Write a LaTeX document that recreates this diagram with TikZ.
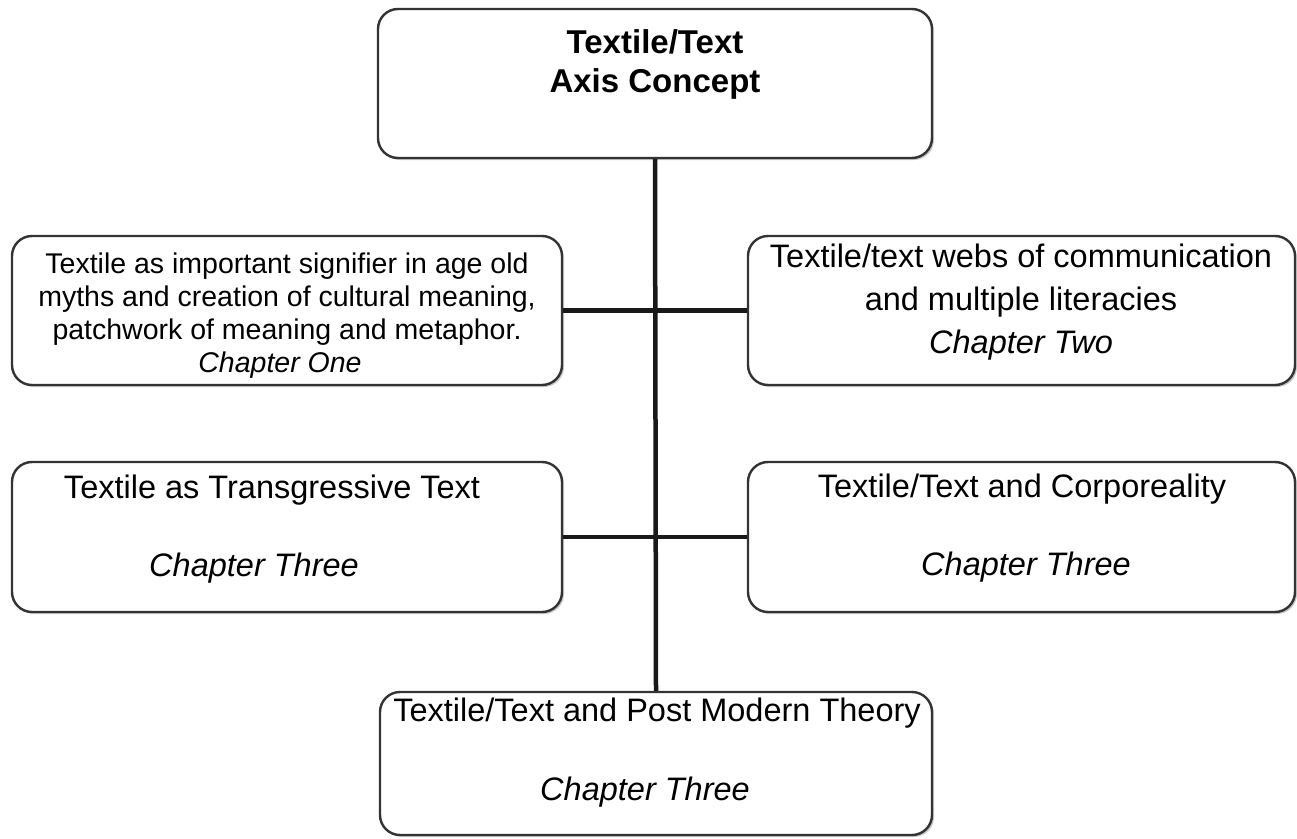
\documentclass[tikz,border=0pt]{standalone}
\usepackage{fontspec}
\setmainfont{Liberation Sans}
\usetikzlibrary{shadows}
\begin{document}
\begin{tikzpicture}[x=1pt,y=-1pt,
  box/.style={draw=black!80, line width=2.4pt, rounded corners=20pt, fill=white,
    inner sep=0pt, drop shadow={shadow xshift=2pt, shadow yshift=-2pt, fill=black!35, opacity=0.6}},
  conn/.style={draw=black!90, line width=4.5pt},
  txt/.style={anchor=base, inner sep=0pt, font=\fontsize{32.5}{39}\selectfont},
  small/.style={anchor=base, inner sep=0pt, font=\fontsize{28.5}{33}\selectfont},
  head/.style={anchor=base, inner sep=0pt, font=\fontsize{33}{39}\selectfont\bfseries}]
\useasboundingbox (0,0) rectangle (1297,838);
\fill[white] (0,0) rectangle (1297,838);

% boxes
\node[box, minimum width=554pt, minimum height=149pt] (top) at (655,83.5) {};
\node[box, minimum width=550pt, minimum height=149pt] (l1) at (287,310.5) {};
\node[box, minimum width=547pt, minimum height=149pt] (r1) at (1021.5,310.5) {};
\node[box, minimum width=550pt, minimum height=150pt] (l2) at (287,537) {};
\node[box, minimum width=547pt, minimum height=150pt] (r2) at (1021.5,537) {};
\node[box, minimum width=552pt, minimum height=143pt] (bot) at (656,763.5) {};

% connectors
\draw[conn] (top.south) -- (bot.north);
\draw[conn] (l1.east) -- (r1.west);
\draw[conn] (l2.east) -- (r2.west);

% texts
\node[head] (t1) at (655,53) {Textile/Text};
\node[head] (t2) at (655,92) {Axis Concept};

\node[small] (a1) at (287,273) {Textile as important signifier in age old};
\node[small] (a2) at (287,306) {myths and creation of cultural meaning,};
\node[small] (a3) at (287,339) {patchwork of meaning and metaphor.};
\node[small] (a4) at (280,372) {\itshape Chapter One};

\node[txt] (b1) at (1021,267) {Textile/text webs of communication};
\node[txt] (b2) at (1021,310) {and multiple literacies};
\node[txt] (b3) at (1021,353) {\itshape Chapter Two};

\node[txt] (c1) at (272,498) {Textile as Transgressive Text};
\node[txt] (c2) at (254,576) {\itshape Chapter Three};

\node[txt] (d1) at (1022,497) {Textile/Text and Corporeality};
\node[txt] (d2) at (1026,575) {\itshape Chapter Three};

\node[txt] (e1) at (657,721) {Textile/Text and Post Modern Theory};
\node[txt] (e2) at (645,800) {\itshape Chapter Three};
\end{tikzpicture}
\end{document}
